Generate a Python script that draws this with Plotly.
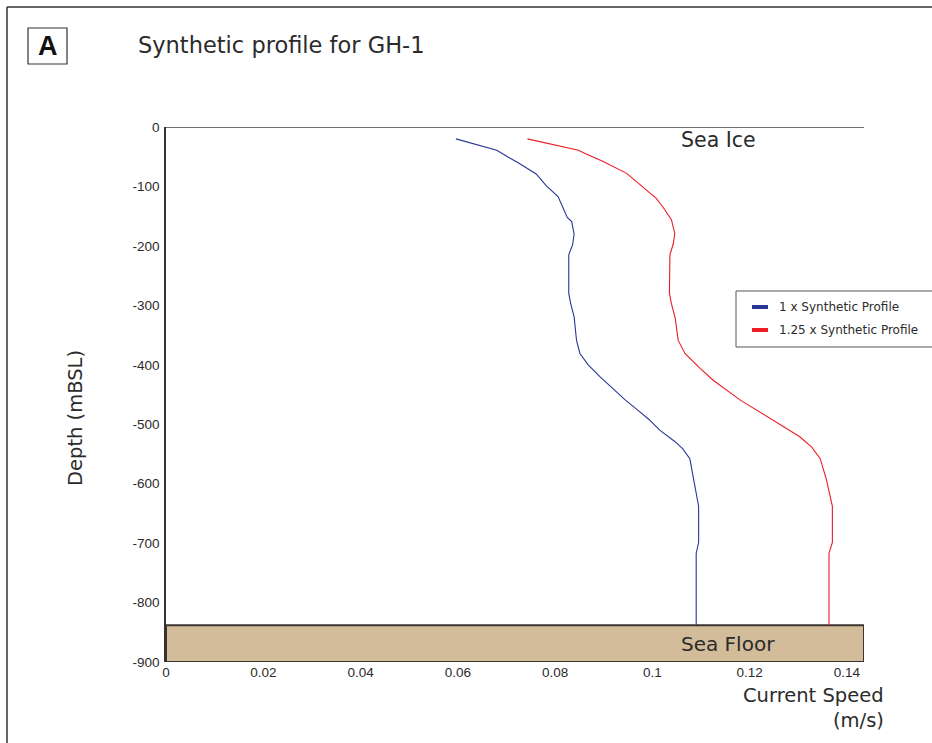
import plotly.graph_objects as go

# ---- data ----
depth_blue = [-20, -39, -51, -60, -79, -99, -117, -152, -159, -180, -198, -215, -280, -297, -319, -359,
              -381, -400, -420, -440, -459, -475, -492, -510, -529, -541, -558, -594, -638, -699, -717, -838]
speed_blue = [0.0596, 0.0680, 0.0704, 0.0724, 0.0761, 0.0782, 0.0806, 0.0825, 0.0834, 0.0839, 0.0836, 0.0828,
              0.0828, 0.0832, 0.0839, 0.0844, 0.0851, 0.0868, 0.0892, 0.0918, 0.0944, 0.0968, 0.0993, 0.1015,
              0.1046, 0.1062, 0.1077, 0.1085, 0.1095, 0.1095, 0.1090, 0.1090]

depth_red = [-20, -39, -46, -58, -78, -98, -120, -135, -156, -179, -196, -215, -280, -297, -322, -359,
             -381, -406, -426, -459, -490, -521, -538, -558, -594, -638, -699, -717, -838]
speed_red = [0.0743, 0.0848, 0.0865, 0.0899, 0.0947, 0.0977, 0.1008, 0.1022, 0.1039, 0.1046, 0.1043, 0.1036,
             0.1035, 0.1039, 0.1047, 0.1053, 0.1067, 0.1098, 0.1125, 0.1180, 0.1241, 0.1303, 0.1327, 0.1345,
             0.1358, 0.1370, 0.1370, 0.1363, 0.1363]

series_names = ["1 x Synthetic Profile", "1.25 x Synthetic Profile"]
x_ticks = [0, 0.02, 0.04, 0.06, 0.08, 0.1, 0.12, 0.14]
x_ticklabels = ["0", "0.02", "0.04", "0.06", "0.08", "0.1", "0.12", "0.14"]
y_ticks = [0, -100, -200, -300, -400, -500, -600, -700, -800, -900]
y_ticklabels = ["0", "-100", "-200", "-300", "-400", "-500", "-600", "-700", "-800", "-900"]
sea_floor_depth = -838
x_max = 0.1435

# ---- layout geometry (pixels) ----
W, H = 932, 743
L, R, T, B = 166, 864, 127, 662


def px(x):
    return (x - L) / (R - L)


def py(y):
    return (B - y) / (B - T)


BLUE = "#2a3596"
RED = "#ee1c24"
TXT = "#2b2b2b"
TITLE_FONT = "'DejaVu Sans', sans-serif"
TICK_FONT = "'Liberation Sans', Arial, sans-serif"

fig = go.Figure()
fig.add_trace(go.Scatter(x=speed_blue, y=depth_blue, mode="lines", name=series_names[0],
                         line=dict(color=BLUE, width=1.1), showlegend=False))
fig.add_trace(go.Scatter(x=speed_red, y=depth_red, mode="lines", name=series_names[1],
                         line=dict(color=RED, width=1.1), showlegend=False))

shapes = []
# sea floor
shapes.append(dict(type="rect", xref="x", yref="y", x0=0, x1=x_max, y0=-900, y1=sea_floor_depth,
                   fillcolor="#d2bc9a", line=dict(color="#3a3530", width=2), layer="below"))
# sea ice line
shapes.append(dict(type="line", xref="x", yref="y", x0=0, x1=x_max, y0=0, y1=0,
                   line=dict(color="#707070", width=2)))
# outer frame
shapes.append(dict(type="line", xref="paper", yref="paper", x0=px(7), x1=px(960), y0=py(7), y1=py(7),
                   line=dict(color="#333333", width=1.5)))
shapes.append(dict(type="line", xref="paper", yref="paper", x0=px(7), x1=px(7), y0=py(7), y1=py(780),
                   line=dict(color="#333333", width=1.5)))
# "A" box
shapes.append(dict(type="rect", xref="paper", yref="paper", x0=px(28), x1=px(67), y0=py(28), y1=py(64),
                   line=dict(color="#333333", width=1.2)))
# legend box
shapes.append(dict(type="rect", xref="paper", yref="paper", x0=px(736), x1=px(960), y0=py(291), y1=py(347),
                   line=dict(color="#555555", width=1)))
shapes.append(dict(type="line", xref="paper", yref="paper", x0=px(752), x1=px(768), y0=py(307), y1=py(307),
                   line=dict(color=BLUE, width=4)))
shapes.append(dict(type="line", xref="paper", yref="paper", x0=px(752), x1=px(768), y0=py(330), y1=py(330),
                   line=dict(color=RED, width=4)))

annotations = [
    dict(text="<b>A</b>", x=px(47.5), y=py(46.5), xref="paper", yref="paper", showarrow=False,
         font=dict(family="'Liberation Sans', Arial, sans-serif", size=27, color="#111111"),
         xanchor="center", yanchor="middle"),
    dict(text="Synthetic profile for GH-1", x=px(136), y=py(45), xref="paper", yref="paper", showarrow=False,
         font=dict(family=TITLE_FONT, size=22.5, color=TXT), xanchor="left", yanchor="middle"),
    dict(text=series_names[0], x=px(777), y=py(307), xref="paper", yref="paper", showarrow=False,
         font=dict(family=TITLE_FONT, size=12, color=TXT), xanchor="left", yanchor="middle"),
    dict(text=series_names[1], x=px(777), y=py(330), xref="paper", yref="paper", showarrow=False,
         font=dict(family=TITLE_FONT, size=12, color=TXT), xanchor="left", yanchor="middle"),
    dict(text="Sea Ice", x=px(679), y=py(140), xref="paper", yref="paper", showarrow=False,
         font=dict(family=TITLE_FONT, size=20.5, color=TXT), xanchor="left", yanchor="middle"),
    dict(text="Sea Floor", x=px(679), y=py(644), xref="paper", yref="paper", showarrow=False,
         font=dict(family=TITLE_FONT, size=20, color=TXT), xanchor="left", yanchor="middle"),
    dict(text="Current Speed", x=px(886), y=py(695), xref="paper", yref="paper", showarrow=False,
         font=dict(family=TITLE_FONT, size=19.5, color=TXT), xanchor="right", yanchor="middle"),
    dict(text="(m/s)", x=px(886), y=py(720), xref="paper", yref="paper", showarrow=False,
         font=dict(family=TITLE_FONT, size=19.5, color=TXT), xanchor="right", yanchor="middle"),
    dict(text="Depth (mBSL)", x=px(75), y=py(418), xref="paper", yref="paper", showarrow=False,
         textangle=-90, font=dict(family=TITLE_FONT, size=19.5, color=TXT), xanchor="center", yanchor="middle"),
]

fig.update_layout(
    width=W, height=H,
    margin=dict(l=L, r=W - R, t=T, b=H - B, pad=0),
    paper_bgcolor="white", plot_bgcolor="white",
    shapes=shapes, annotations=annotations, showlegend=False,
    xaxis=dict(range=[0, x_max], tickvals=x_ticks, ticktext=x_ticklabels, showgrid=False, zeroline=False,
               showline=False, ticks="", tickfont=dict(family=TICK_FONT, size=13.5, color=TXT),
               ticklabelstandoff=0),
    yaxis=dict(range=[-900, 0], tickvals=y_ticks, ticktext=y_ticklabels, showgrid=False, zeroline=False,
               showline=True, linecolor="#333333", linewidth=1.5, ticks="",
               tickfont=dict(family=TICK_FONT, size=13.5, color=TXT), ticklabelstandoff=2),
)

fig.write_html("out.html")
